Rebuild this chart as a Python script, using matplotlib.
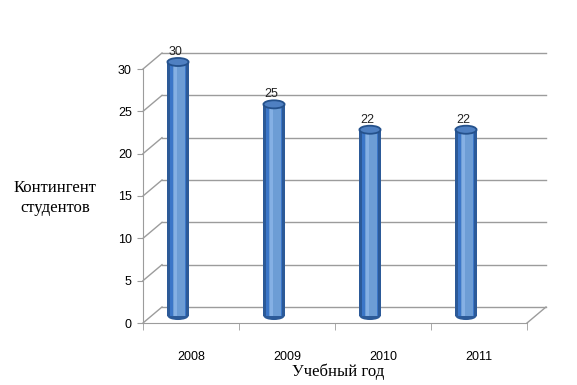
import matplotlib
matplotlib.use("Agg")
import matplotlib.pyplot as plt
from matplotlib.patches import Ellipse
from matplotlib.transforms import ScaledTranslation
from matplotlib.lines import Line2D

years = ["2008", "2009", "2010", "2011"]
values = [30, 25, 22, 22]
yticks = [0, 5, 10, 15, 20, 25, 30]
ylabel = "Контингент\nстудентов"
xlabel = "Учебный год"

W, H, DPI = 577, 385, 100
fig = plt.figure(figsize=(W / DPI, H / DPI), dpi=DPI)
ax = fig.add_axes([143 / W, (H - 323) / H, 384 / W, 254 / H])
ax.set_xlim(-0.5, 3.5)
ax.set_ylim(0, 30)
ax.patch.set_visible(False)

grid_c = "#9c9c9c"
px = 1.0 / DPI
back = ax.transData + ScaledTranslation(19 * px, 16 * px, fig.dpi_scale_trans)

# back wall gridlines and left wall diagonals
for v in yticks:
    ax.add_line(Line2D([-0.5, 3.5], [v, v], transform=back, color=grid_c, lw=1, clip_on=False))
for v in yticks:
    x0, y0 = ax.transData.transform((-0.5, v))
    x1, y1 = back.transform((-0.5, v))
    ax.add_line(Line2D([x0, x1], [y0, y1], transform=None, color=grid_c, lw=1, clip_on=False))
# floor right edge
x0, y0 = ax.transData.transform((3.5, 0))
x1, y1 = back.transform((3.5, 0))
ax.add_line(Line2D([x0, x1], [y0, y1], transform=None, color=grid_c, lw=1, clip_on=False))

# cylinders
bar_t = ax.transData + ScaledTranslation(-13 * px, 7 * px, fig.dpi_scale_trans)
xs = list(range(len(years)))
bw = 0.22
layers = [
    (1.00, 0.0, "#2c5a98"),
    (0.76, 0.02, "#3b76c8"),
    (0.60, 0.04, "#6d9dd5"),
    (0.12, -0.12, "#85b0e4"),
]
for frac, shift, col in layers:
    bars = ax.bar([x + shift * bw for x in xs], values, width=bw * frac, color=col,
                  transform=bar_t, zorder=3, linewidth=0)
    for b in bars:
        b.set_clip_on(False)
eh = 0.95
for x, v in zip(xs, values):
    ax.add_patch(Ellipse((x, 0), bw, eh, transform=bar_t, facecolor="#2c5a98",
                         edgecolor="none", zorder=2.9, clip_on=False))
    ax.add_patch(Ellipse((x, v), bw, eh, transform=bar_t, facecolor="#4f80c2",
                         edgecolor="#24518c", lw=1.3, zorder=4, clip_on=False))
    ax.annotate(str(v), (x, v), xycoords=bar_t, xytext=(-2, 3), textcoords="offset points",
                ha="center", va="bottom", fontsize=9, family="Liberation Sans", color="#222222",
                annotation_clip=False)

# axes styling
for s in ["top", "right"]:
    ax.spines[s].set_visible(False)
for s in ["left", "bottom"]:
    ax.spines[s].set_color(grid_c)
ax.set_yticks(yticks)
ax.set_yticklabels([str(v) for v in yticks], fontsize=9, family="Liberation Sans")
ax.set_xticks(xs)
ax.set_xticklabels(years, fontsize=9, family="Liberation Sans")
ax.tick_params(axis="x", length=0, pad=20)
ax.set_xticks([-0.5, 0.5, 1.5, 2.5, 3.5], minor=True)
ax.tick_params(axis="x", which="minor", length=5, color=grid_c, direction="out")
ax.tick_params(axis="y", length=4, color=grid_c, pad=4)

fig.text(55 / W, 1 - 198 / H, ylabel, ha="center", va="center", fontsize=12,
         family="Liberation Serif", linespacing=1.3)
fig.text(338 / W, 1 - 372 / H, xlabel, ha="center", va="center", fontsize=12,
         family="Liberation Serif")

fig.savefig("out.png", dpi=DPI)
